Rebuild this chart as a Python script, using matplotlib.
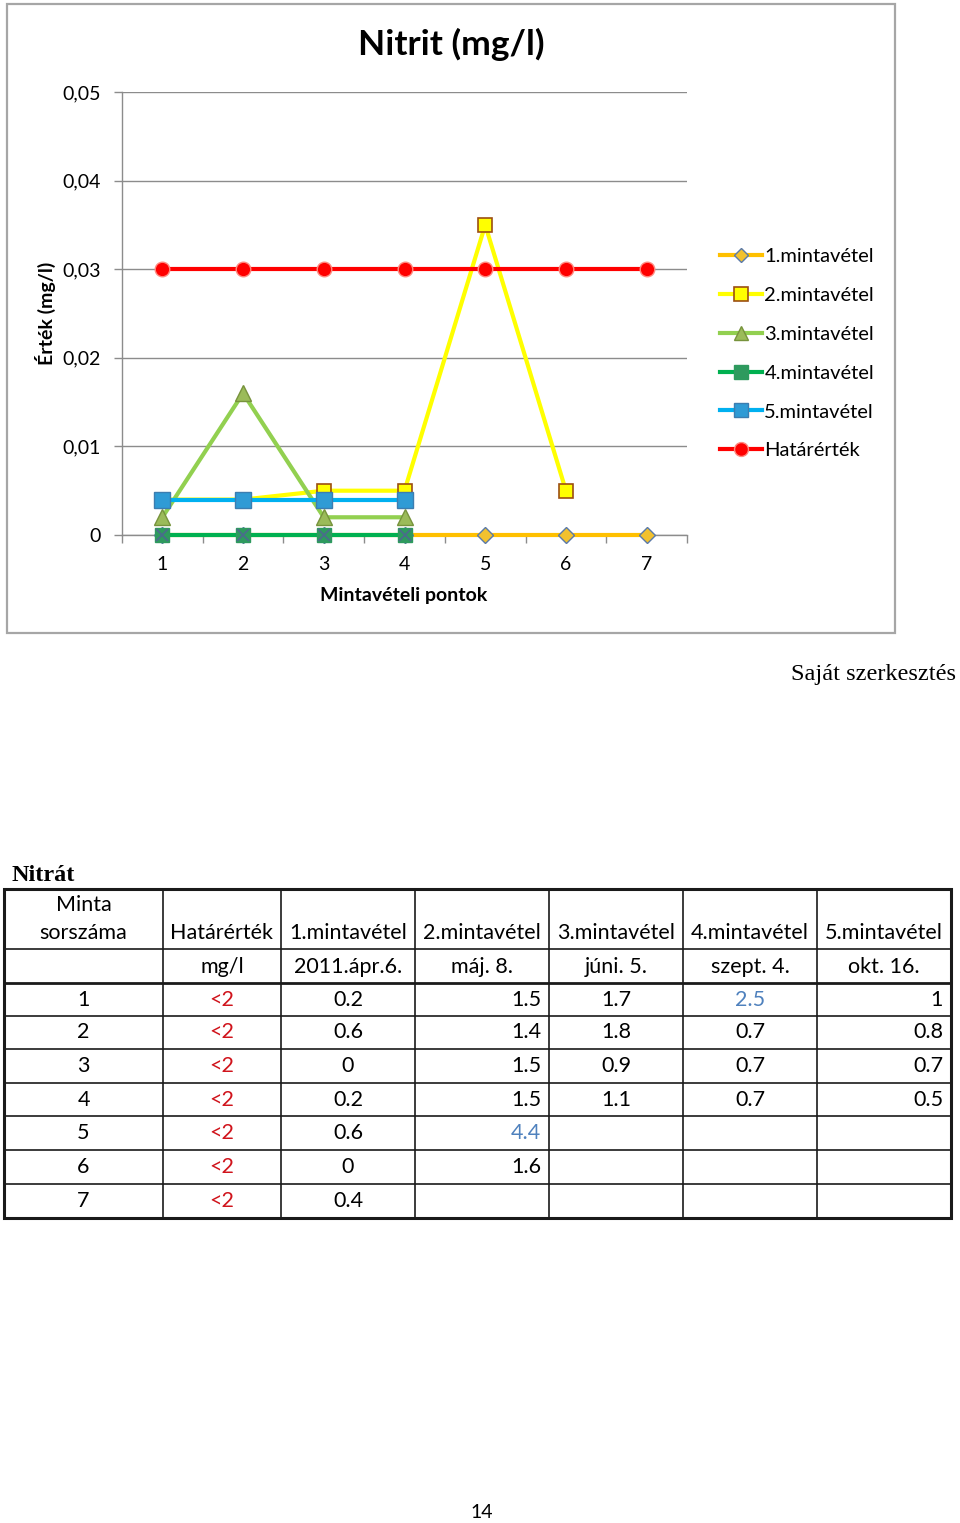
import matplotlib
matplotlib.use("Agg")
import matplotlib.pyplot as plt
from matplotlib.lines import Line2D

# ---------------- data ----------------
points = [1, 2, 3, 4, 5, 6, 7]
minta1 = [0, 0, 0, 0, 0, 0, 0]
minta2 = [0.004, 0.004, 0.005, 0.005, 0.035, 0.005, None]
minta3 = [0.002, 0.016, 0.002, 0.002, None, None, None]
minta4 = [0, 0, 0, 0, None, None, None]
minta5 = [0.004, 0.004, 0.004, 0.004, None, None, None]
hatarertek = [0.03, 0.03, 0.03, 0.03, 0.03, 0.03, 0.03]
series_names = ["1.mintavétel", "2.mintavétel", "3.mintavétel",
                "4.mintavétel", "5.mintavétel", "Határérték"]
y_ticks = [0, 0.01, 0.02, 0.03, 0.04, 0.05]
y_tick_labels = ["0", "0,01", "0,02", "0,03", "0,04", "0,05"]

# table data (Nitrát)
tbl_headers = ["Minta\nsorszáma", "Határérték", "1.mintavétel", "2.mintavétel",
               "3.mintavétel", "4.mintavétel", "5.mintavétel"]
tbl_units = ["", "mg/l", "2011.ápr.6.", "máj. 8.", "júni. 5.", "szept. 4.", "okt. 16."]
tbl_sorszam = ["1", "2", "3", "4", "5", "6", "7"]
tbl_hatar = ["<2", "<2", "<2", "<2", "<2", "<2", "<2"]
tbl_m1 = ["0.2", "0.6", "0", "0.2", "0.6", "0", "0.4"]
tbl_m2 = ["1.5", "1.4", "1.5", "1.5", "4.4", "1.6", ""]
tbl_m3 = ["1.7", "1.8", "0.9", "1.1", "", "", ""]
tbl_m4 = ["2.5", "0.7", "0.7", "0.7", "", "", ""]
tbl_m5 = ["1", "0.8", "0.7", "0.5", "", "", ""]

FONT = "Lato"
SERIF = "Liberation Serif"
W, H = 960, 1523
fig = plt.figure(figsize=(W / 100, H / 100), dpi=100)

def px_axes(x0, y0, x1, y1):
    return [x0 / W, 1 - y1 / H, (x1 - x0) / W, (y1 - y0) / H]

# overlay for page elements
ov = fig.add_axes([0, 0, 1, 1])
ov.set_xlim(0, W)
ov.set_ylim(H, 0)
ov.axis("off")

# chart frame
ov.add_patch(plt.Rectangle((6.5, 4), 888, 629, fill=False, ec="#A6A6A6", lw=1.6, zorder=0))

# ---------------- chart ----------------
ax = fig.add_axes(px_axes(122, 92, 687, 535))
ax.set_zorder(2)
ax.patch.set_alpha(0)

def yv(vals):
    return [float("nan") if v is None else v for v in vals]

styles = [
    dict(data=minta1, color="#FFC000", marker="D", ms=8, mfc="#F2C12E", mec="#5A7AA8", mew=1.0),
    dict(data=minta2, color="#FFFF00", marker="s", ms=10.5, mfc="#FFFF00", mec="#9C4F12", mew=1.2),
    dict(data=minta3, color="#92D050", marker="^", ms=11, mfc="#9BBB59", mec="#77933C", mew=1.0),
    dict(data=minta4, color="#00B050", marker="s", ms=10, mfc="#2E9A5E", mec="#2E9A5E", mew=1.0),
    dict(data=minta5, color="#00B0F0", marker="s", ms=11, mfc="#2F9BD5", mec="#3C7DB0", mew=1.0),
    dict(data=hatarertek, color="#FF0000", marker="o", ms=10.5, mfc="#FF0000", mec="#FF8A80", mew=1.0),
]
handles = []
for i, (st, name) in enumerate(zip(styles, series_names)):
    ax.plot(points, yv(st["data"]), color=st["color"], lw=3.0, marker=st["marker"],
            ms=st["ms"], mfc=st["mfc"], mec=st["mec"], mew=st["mew"], zorder=3 + i,
            clip_on=False)
    if i == 3:
        ax.plot(points, yv(st["data"]), ls="none", marker="x", ms=9, mew=1.3,
                color="#4A6C8C", zorder=3 + i, clip_on=False)
    handles.append(Line2D([], [], color=st["color"], lw=3.0, marker=st["marker"],
                          ms=st["ms"] - 0.5, mfc=st["mfc"], mec=st["mec"], mew=st["mew"]))

ax.set_xlim(0.5, 7.5)
ax.set_ylim(0, 0.05)
ax.set_yticks(y_ticks)
ax.set_yticklabels(y_tick_labels, fontsize=14, family=FONT)
ax.set_xticks(points)
ax.set_xticklabels([str(p) for p in points], fontsize=14, family=FONT)
ax.set_xticks([p - 0.5 for p in points] + [7.5], minor=True)
ax.tick_params(axis="x", which="major", length=0, pad=15)
ax.tick_params(axis="x", which="minor", length=6, color="#8C8C8C", width=1)
ax.tick_params(axis="y", length=6, color="#8C8C8C", width=1, pad=9)
ax.grid(axis="y", color="#8C8C8C", lw=1.0)
ax.set_axisbelow(True)
for s in ["top", "right"]:
    ax.spines[s].set_visible(False)
for s in ["left", "bottom"]:
    ax.spines[s].set_color("#8C8C8C")
    ax.spines[s].set_linewidth(1.0)

ov.text(451, 44, "Nitrit (mg/l)", fontsize=25.5, fontweight="bold", family=FONT,
        ha="center", va="center")
ov.text(404, 595, "Mintavételi pontok", fontsize=14, fontweight="bold", family=FONT,
        ha="center", va="center")
ov.text(45, 313, "Érték (mg/l)", fontsize=14, fontweight="bold", family=FONT,
        ha="center", va="center", rotation=90)

leg = fig.legend(handles, series_names, loc="upper left",
                 bbox_to_anchor=(712 / W, 1 - 240 / H), frameon=False,
                 prop={"family": FONT, "size": 14.5}, handlelength=2.1,
                 handletextpad=0.1, labelspacing=1.08, borderaxespad=0)

# ---------------- page text ----------------
ov.text(791, 674, "Saját szerkesztés", fontsize=17.5, family=SERIF, ha="left", va="center")
ov.text(12, 875, "Nitrát", fontsize=17.5, family=SERIF, fontweight="bold", ha="left", va="center")
ov.text(482, 1513, "14", fontsize=14, family=FONT, ha="center", va="center")

# ---------------- table ----------------
col_x = [4, 163, 281, 415, 549, 683, 817, 951]
row_y = [889, 949, 983, 1016, 1049, 1083, 1116, 1150, 1184, 1218]
lc = "#1A1A1A"
for yy in row_y[1:-1]:
    ov.plot([col_x[0], col_x[-1]], [yy, yy], color=lc, lw=2.0 if yy == 983 else 1.2)
for xx in col_x[1:-1]:
    ov.plot([xx, xx], [row_y[0], row_y[-1]], color=lc, lw=1.2)
ov.add_patch(plt.Rectangle((col_x[0], row_y[0]), col_x[-1] - col_x[0], row_y[-1] - row_y[0],
                           fill=False, ec=lc, lw=2.2))

TF = 15.5
def cell_text(ci, ri_center, s, align="center", color="black"):
    x0, x1 = col_x[ci], col_x[ci + 1]
    if align == "center":
        x, ha = (x0 + x1) / 2, "center"
    else:
        x, ha = x1 - 8, "right"
    ov.text(x, ri_center, s, fontsize=TF, family=FONT, ha=ha, va="center", color=color)

# header
ov.text((col_x[0] + col_x[1]) / 2, 905, "Minta", fontsize=TF, family=FONT, ha="center", va="center")
ov.text((col_x[0] + col_x[1]) / 2, 933, "sorszáma", fontsize=TF, family=FONT, ha="center", va="center")
for ci in range(1, 7):
    cell_text(ci, 933, tbl_headers[ci])
for ci in range(7):
    if tbl_units[ci]:
        cell_text(ci, 967, tbl_units[ci])

blue = "#4F81BD"
cols = [tbl_sorszam, tbl_hatar, tbl_m1, tbl_m2, tbl_m3, tbl_m4, tbl_m5]
aligns = ["center", "center", "center", "right", "center", "center", "right"]
for ri in range(7):
    yc = (row_y[ri + 2] + row_y[ri + 3]) / 2
    for ci in range(7):
        s = cols[ci][ri]
        if not s:
            continue
        color = "black"
        if ci == 1:
            color = "#D0141C"
        if (ci == 3 and ri == 4) or (ci == 5 and ri == 0):
            color = blue
        cell_text(ci, yc, s, align=aligns[ci], color=color)

fig.savefig("out.png", dpi=100)
